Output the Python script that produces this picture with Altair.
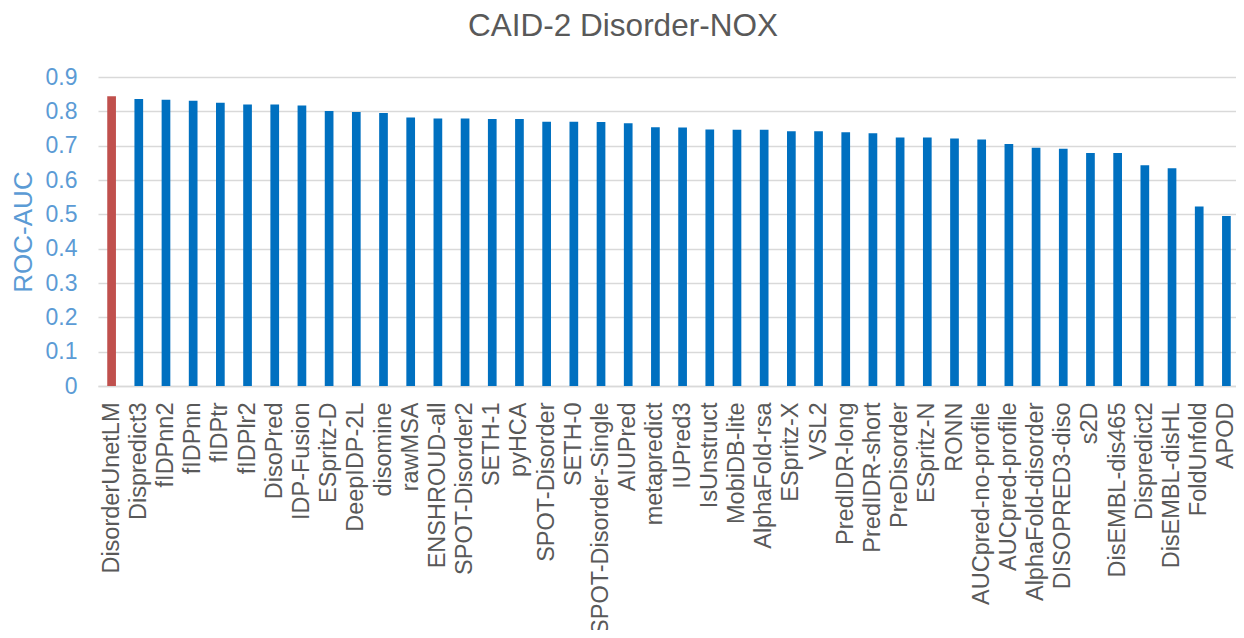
import altair as alt
import pandas as pd

methods = [
    "DisorderUnetLM", "Dispredict3", "fIDPnn2", "fIDPnn", "fIDPtr", "fIDPlr2",
    "DisoPred", "IDP-Fusion", "ESpritz-D", "DeepIDP-2L", "disomine", "rawMSA",
    "ENSHROUD-all", "SPOT-Disorder2", "SETH-1", "pyHCA", "SPOT-Disorder", "SETH-0",
    "SPOT-Disorder-Single", "AIUPred", "metapredict", "IUPred3", "IsUnstruct",
    "MobiDB-lite", "AlphaFold-rsa", "ESpritz-X", "VSL2", "PredIDR-long",
    "PredIDR-short", "PreDisorder", "ESpritz-N", "RONN", "AUCpred-no-profile",
    "AUCpred-profile", "AlphaFold-disorder", "DISOPRED3-diso", "s2D",
    "DisEMBL-dis465", "Dispredict2", "DisEMBL-disHL", "FoldUnfold", "APOD",
]
roc_auc = [
    0.844, 0.836, 0.834, 0.831, 0.825, 0.820,
    0.820, 0.817, 0.801, 0.798, 0.795, 0.782,
    0.779, 0.779, 0.778, 0.778, 0.770, 0.770,
    0.769, 0.765, 0.754, 0.753, 0.747,
    0.746, 0.746, 0.742, 0.742, 0.739,
    0.736, 0.724, 0.724, 0.721, 0.718,
    0.705, 0.694, 0.691, 0.679,
    0.679, 0.643, 0.634, 0.523, 0.495,
]
highlight = "DisorderUnetLM"
y_ticks = [0, 0.1, 0.2, 0.3, 0.4, 0.5, 0.6, 0.7, 0.8, 0.9]

df = pd.DataFrame({"method": methods, "auc": roc_auc})

FONT = "Liberation Sans"
BLUE_TXT = "#5B9BD5"
GRAY_TXT = "#595959"

chart = (
    alt.Chart(df)
    .mark_bar()
    .encode(
        x=alt.X(
            "method:N",
            sort=None,
            title=None,
            scale=alt.Scale(paddingInner=0.68, paddingOuter=0.34),
            axis=alt.Axis(
                labelAngle=-90,
                labelFontSize=23.5,
                labelColor=GRAY_TXT,
                labelFont=FONT,
                labelPadding=16,
                labelLimit=400,
                labelOverlap=False,
                ticks=False,
                tickSize=0,
                domainColor="#D9D9D9",
                domainWidth=1.5,
                grid=False,
            ),
        ),
        y=alt.Y(
            "auc:Q",
            title="ROC-AUC",
            scale=alt.Scale(domain=[0, 0.9], nice=False),
            axis=alt.Axis(
                values=y_ticks,
                format=".1~f",
                labelFontSize=23,
                labelColor=BLUE_TXT,
                labelFont=FONT,
                labelPadding=21,
                ticks=False,
                tickSize=0,
                domain=False,
                gridColor="#D9D9D9",
                gridWidth=1.4,
                titleFontSize=26,
                titleFont=FONT,
                titleFontWeight="normal",
                titleColor=BLUE_TXT,
                titlePadding=9,
            ),
        ),
        color=alt.condition(
            alt.datum.method == highlight, alt.value("#C0504D"), alt.value("#0070C0")
        ),
    )
    .properties(
        width=1142,
        height=309,
        title=alt.TitleParams(
            "CAID-2 Disorder-NOX",
            fontSize=31.5,
            font=FONT,
            fontWeight="normal",
            color=GRAY_TXT,
            anchor="middle",
            dx=-46,
            offset=24,
        ),
        autosize=alt.AutoSizeParams(type="none"),
        padding={"left": 90, "top": 69, "right": -4, "bottom": 244},
    )
    .configure_view(stroke=None)
)

chart.save("out.html", embed_options={"renderer": "svg", "actions": False})
